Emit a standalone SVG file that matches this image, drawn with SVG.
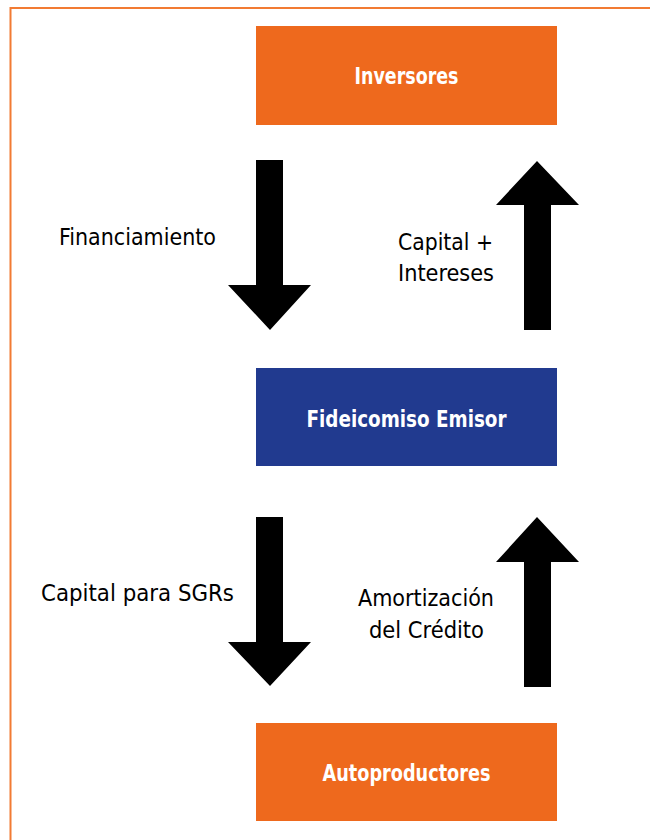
<svg xmlns="http://www.w3.org/2000/svg" width="650" height="840" viewBox="0 0 650 840">
<style>
.frame{fill:none;stroke:#F27B33;stroke-width:2}
.orange{fill:#EE691D}
.blue{fill:#213A8F}
.arrow{fill:#000}
.nt{font-family:"DejaVu Sans Condensed","DejaVu Sans",sans-serif;font-size:22.5px;font-weight:bold;fill:#fff;text-anchor:middle}
.lbl{font-family:"DejaVu Sans Condensed","DejaVu Sans",sans-serif;font-size:23px;fill:#000}
</style>
<rect width="650" height="840" fill="#fff"/>
<path class="frame" d="M10.5,840 V8 H650"/>
<g id="inversores">
<rect class="orange" x="256" y="26" width="301" height="99"/>
<text class="nt" x="406.5" y="84" textLength="104" lengthAdjust="spacingAndGlyphs">Inversores</text>
</g>
<g id="fideicomiso">
<rect class="blue" x="256" y="368" width="301" height="98"/>
<text class="nt" x="406.5" y="427" textLength="200" lengthAdjust="spacingAndGlyphs">Fideicomiso Emisor</text>
</g>
<g id="autoproductores">
<rect class="orange" x="256" y="723" width="301" height="98"/>
<text class="nt" x="406.5" y="781" textLength="168" lengthAdjust="spacingAndGlyphs">Autoproductores</text>
</g>
<g id="connectors">
<polygon class="arrow" points="256,160 283,160 283,285 311,285 270,330 228,285 256,285"/>
<polygon class="arrow" points="537,161 579,205 551,205 551,330 524,330 524,205 496,205"/>
<polygon class="arrow" points="256,517 283,517 283,642 311,642 270,686 228,642 256,642"/>
<polygon class="arrow" points="537,517 579,562 551,562 551,687 524,687 524,562 496,562"/>
<text class="lbl" x="59" y="245" textLength="157" lengthAdjust="spacingAndGlyphs">Financiamiento</text>
<text class="lbl" x="398" y="250" textLength="95" lengthAdjust="spacingAndGlyphs">Capital +</text>
<text class="lbl" x="398" y="281" textLength="96" lengthAdjust="spacingAndGlyphs">Intereses</text>
<text class="lbl" x="41" y="601" textLength="193" lengthAdjust="spacingAndGlyphs">Capital para SGRs</text>
<text class="lbl" x="358" y="606" textLength="136" lengthAdjust="spacingAndGlyphs">Amortización</text>
<text class="lbl" x="369" y="638" textLength="115" lengthAdjust="spacingAndGlyphs">del Crédito</text>
</g>
</svg>
